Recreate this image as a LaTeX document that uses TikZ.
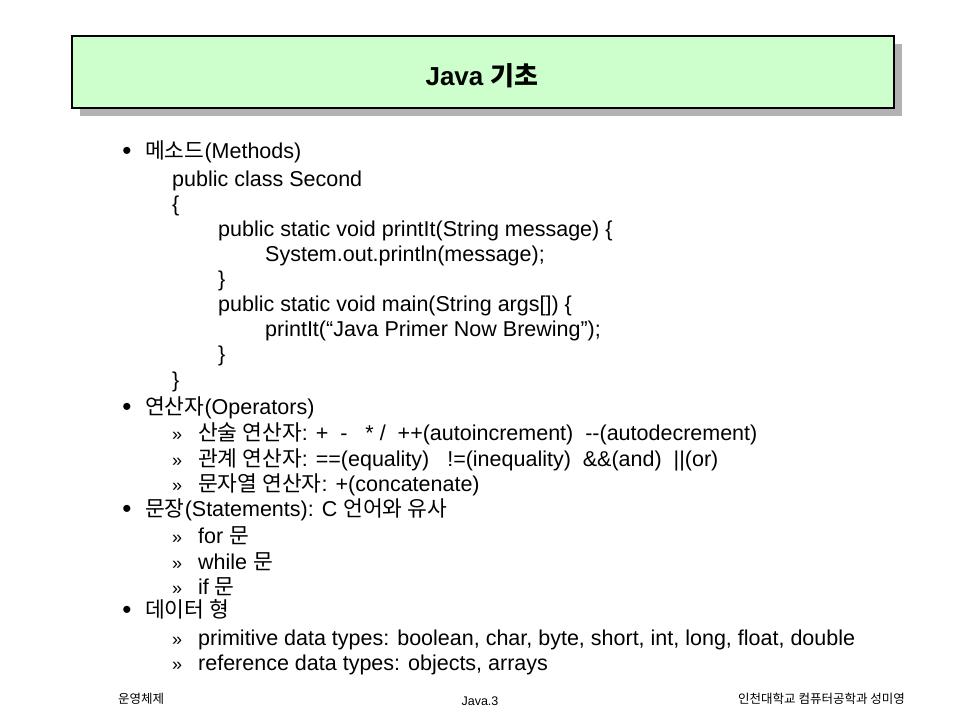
\documentclass[tikz,border=0pt]{standalone}
\usepackage{fontspec}
\setmainfont{Liberation Sans}
\newfontfamily\krfont{Noto Sans CJK KR}
\newcommand\KR[1]{{\krfont #1}}
\begin{document}
\begin{tikzpicture}[x=1pt,y=-1pt,
  body/.style={anchor=base west,inner sep=0pt,font=\fontsize{21.5}{24}\selectfont},
  bul/.style={anchor=base,inner sep=0pt,font=\fontsize{26}{28}\selectfont},
  sub/.style={anchor=base west,inner sep=0pt,font=\fontsize{18}{20}\selectfont},
  foot/.style={inner sep=0pt,font=\fontsize{12.5}{15}\selectfont}]
\useasboundingbox (0,0) rectangle (960,720);
\fill[white] (0,0) rectangle (960,720);
% title box
\fill[black!30] (80,44) rectangle (902,116);
\draw[fill={rgb,255:red,204;green,255;blue,204},line width=1.2pt] (72,36) rectangle (894,108);
\node[inner sep=0pt,font=\fontsize{26}{28}\selectfont\bfseries] (title) at (482,76) {Java \KR{기초}};
% bullets
\foreach \y/\n in {159/b1,415/b2,517/b3,618/b4}
  \node[bul] (\n) at (127,\y) {•};
\node[body] (l1) at (145,158) {\KR{메소드}(Methods)};
\node[body] (l2) at (172,186) {public class Second};
\node[body] (l3) at (172,211) {\{};
\node[body] (l4) at (218,236) {public static void printIt(String message) \{};
\node[body] (l5) at (265,261) {System.out.println(message);};
\node[body] (l6) at (218,286) {\}};
\node[body] (l7) at (218,311) {public static void main(String args[]) \{};
\node[body] (l8) at (265,336) {printIt(“Java Primer Now Brewing”);};
\node[body] (l9) at (218,361) {\}};
\node[body] (l10) at (172,387) {\}};
\node[body] (l11) at (145,414) {\KR{연산자}(Operators)};
\foreach \y/\n in {440/s1,466/s2,491/s3,543/s4,569/s5,594/s6,645/s7,670/s8}
  \node[sub] (\n) at (172,\y) {»};
\node[body] (l12) at (198,440) {\KR{산술 연산자}: +\ \ -\ \ \ * /\ \ ++(autoincrement)\ \ -{}-(autodecrement)};
\node[body] (l13) at (198,466) {\KR{관계 연산자}: ==(equality)\ \ \ !=(inequality)\ \ \&\&(and)\ \ ||(or)};
\node[body] (l14) at (198,491) {\KR{문자열 연산자}: +(concatenate)};
\node[body] (l15) at (145,516) {\KR{문장}(Statements): C \KR{언어와 유사}};
\node[body] (l16) at (198,543) {for \KR{문}};
\node[body] (l17) at (198,569) {while \KR{문}};
\node[body] (l18) at (198,594) {if \KR{문}};
\node[body] (l19) at (145,617) {\KR{데이터 형}};
\node[body] (l20) at (198,645) {primitive data types: boolean, char, byte, short, int, long, float, double};
\node[body] (l21) at (198,670) {reference data types: objects, arrays};
% footer
\node[foot,anchor=base west] (f1) at (118,703) {\KR{운영체제}};
\node[foot,anchor=base] (f2) at (480,705) {Java.3};
\node[foot,anchor=base east] (f3) at (905,703) {\KR{인천대학교 컴퓨터공학과 성미영}};
\end{tikzpicture}
\end{document}
